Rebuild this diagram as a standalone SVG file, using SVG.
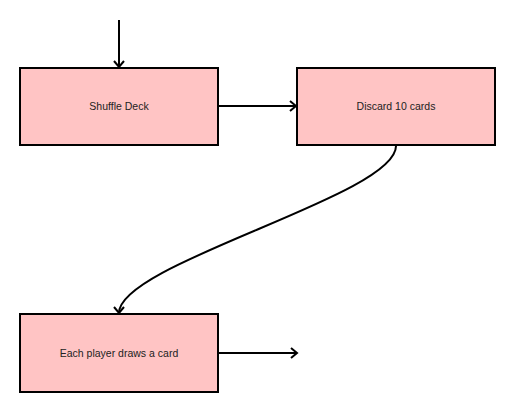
<svg xmlns="http://www.w3.org/2000/svg" width="515" height="412" viewBox="0 0 515 412">
<defs>
<style>
.box{fill:#ffc4c4;stroke:#000;stroke-width:2}
.lbl{font-family:"Liberation Sans",Arial,sans-serif;font-size:10.5px;fill:#222;text-anchor:middle}
.edge{fill:none;stroke:#000;stroke-width:2}
</style>
<marker id="arr" viewBox="-8 -6 10 12" refX="0" refY="0" markerWidth="10" markerHeight="12" markerUnits="userSpaceOnUse" orient="auto">
<path d="M-6,-5 L0,0 L-6,5" fill="none" stroke="#000" stroke-width="2"/>
</marker>
</defs>
<rect width="515" height="412" fill="#fff"/>
<g id="connectors">
<path class="edge" d="M119,20 L119,67" marker-end="url(#arr)"/>
<path class="edge" d="M218,106 L296,106" marker-end="url(#arr)"/>
<path class="edge" d="M396,146 C396,196 119,263 119,313" marker-end="url(#arr)"/>
<path class="edge" d="M218,353 L297,353" marker-end="url(#arr)"/>
</g>
<g id="shuffle">
<rect class="box" x="20" y="68" width="198" height="77"/>
<text class="lbl" x="119" y="110">Shuffle Deck</text>
</g>
<g id="discard">
<rect class="box" x="297" y="68" width="198" height="77"/>
<text class="lbl" x="396" y="110">Discard 10 cards</text>
</g>
<g id="draw">
<rect class="box" x="20" y="314" width="198" height="78"/>
<text class="lbl" x="119" y="357">Each player draws a card</text>
</g>
</svg>
